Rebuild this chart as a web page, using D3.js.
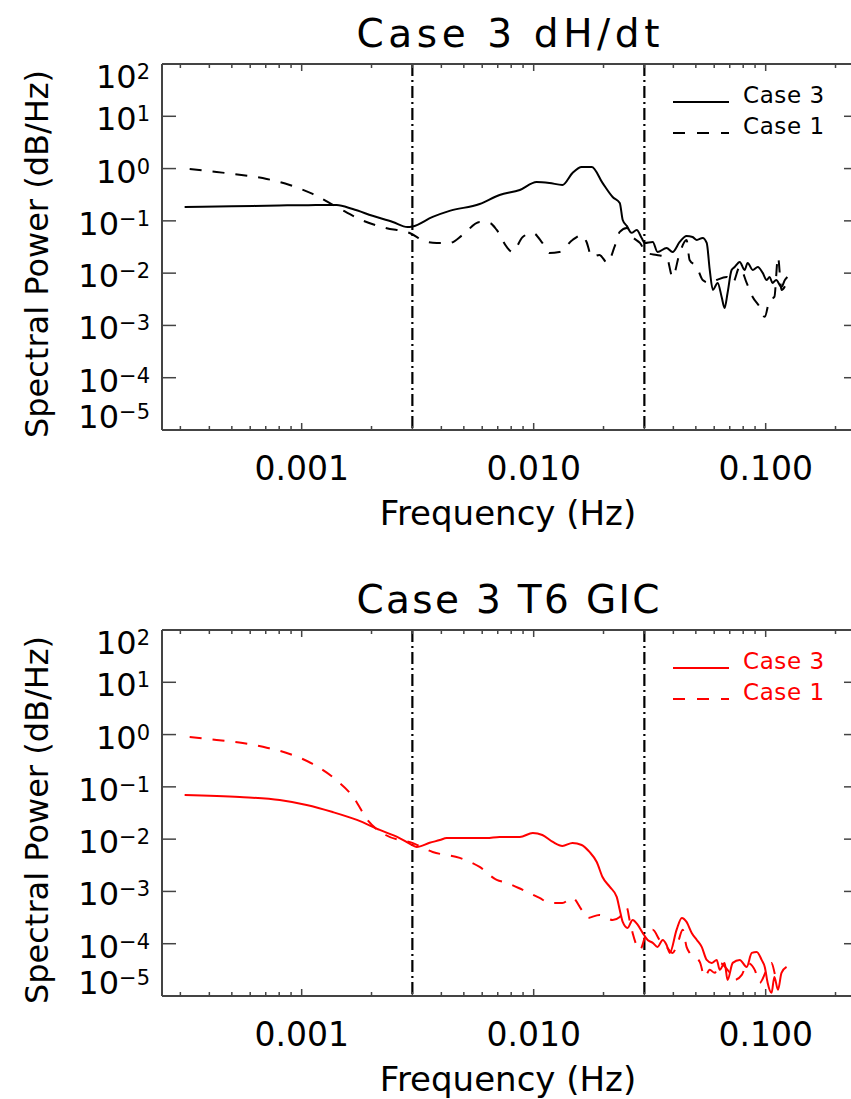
<!DOCTYPE html>
<html><head><meta charset="utf-8">
<script src="https://cdn.jsdelivr.net/npm/d3@7/dist/d3.min.js"></script>
<style>
body{margin:0;background:#fff;overflow:hidden}
svg{display:block}
text{font-family:"DejaVu Sans",sans-serif;fill:#000}
</style>
</head><body>
<svg id="chart" width="851" height="1099"></svg>
<script>
// ---------- data ----------
const titles = ["Case 3 dH/dt", "Case 3 T6 GIC"];
const seriesNames = ["Case 3", "Case 1"];
const xTickValues = [0.001, 0.01, 0.1];
const xTickLabels = ["0.001", "0.010", "0.100"];
const yTickExponents = [2, 1, 0, -1, -2, -3, -4, -5];
const bandFreqs = [0.003, 0.03];

// Panel 1: dH/dt, Case 3 (solid)
const dhdtCase3Freq = [0.000313,0.0005,0.0008,0.00115,0.001415,0.00166,0.00202,0.00247,0.00286,0.0030,0.00367,0.00434,0.00585,0.00713,0.00871,0.0103,0.0117,0.0133,0.0147,0.0161,0.0178,0.0198,0.0219,0.0235,0.0242,0.0252,0.0264,0.0278,0.0292,0.0301,0.0326,0.0342,0.0374,0.0397,0.0426,0.0456,0.0484,0.0505,0.0535,0.0557,0.0574,0.0592,0.0621,0.0646,0.0665,0.0685,0.0713,0.0735,0.0773,0.0811,0.0836,0.0879,0.0925,0.0971,0.101,0.104,0.107,0.111,0.117,0.121,0.124];
const dhdtCase3Power = [0.185,0.19,0.197,0.20,0.20,0.168,0.125,0.095,0.076,0.078,0.119,0.155,0.21,0.313,0.39,0.555,0.531,0.486,0.824,1.07,1.07,0.531,0.286,0.22,0.104,0.080,0.059,0.067,0.047,0.0378,0.0395,0.0254,0.0303,0.0254,0.0395,0.0514,0.0492,0.0431,0.0471,0.0378,0.0115,0.00477,0.0065,0.0035,0.00216,0.00418,0.0115,0.0131,0.0164,0.0115,0.0157,0.0115,0.0131,0.0101,0.00741,0.00846,0.0065,0.00741,0.00545,0.00741,0.00846];

// Panel 1: dH/dt, Case 1 (dashed)
const dhdtCase1Freq = [0.000329,0.00043,0.00055,0.000707,0.000888,0.001115,0.001415,0.00181,0.0023,0.00292,0.00346,0.00382,0.00434,0.00494,0.00585,0.00646,0.00693,0.00765,0.0081,0.00897,0.00991,0.0109,0.0117,0.0129,0.0147,0.0161,0.0169,0.0178,0.0192,0.0208,0.0223,0.0235,0.0252,0.0267,0.0287,0.0307,0.0339,0.0374,0.0397,0.0426,0.0456,0.047,0.0505,0.0535,0.0574,0.0615,0.0679,0.0721,0.0773,0.0828,0.0879,0.0942,0.0991,0.104,0.109,0.113,0.117,0.123];
const dhdtCase1Power = [0.98,0.86,0.755,0.633,0.485,0.327,0.185,0.104,0.073,0.0587,0.0395,0.0378,0.0378,0.0537,0.0953,0.0912,0.067,0.0317,0.0254,0.0492,0.0587,0.0378,0.0243,0.0254,0.0431,0.0537,0.0395,0.0204,0.0223,0.0157,0.0317,0.0614,0.0731,0.0492,0.0378,0.0243,0.0223,0.0204,0.00846,0.0243,0.0431,0.0179,0.0131,0.00741,0.0065,0.00741,0.00846,0.0065,0.0131,0.0065,0.0035,0.00226,0.00146,0.00307,0.0035,0.0204,0.00477,0.0065];

// Panel 2: T6 GIC, Case 3 (solid)
const gicCase3Freq = [0.000313,0.000541,0.000804,0.00105,0.00136,0.00173,0.00217,0.00264,0.00298,0.00313,0.00356,0.00394,0.00422,0.00514,0.00627,0.00713,0.00871,0.00991,0.0109,0.0121,0.0133,0.0147,0.0161,0.0174,0.0187,0.0198,0.0213,0.0228,0.0235,0.0242,0.0254,0.0267,0.0281,0.0295,0.031,0.0326,0.0342,0.036,0.0374,0.0386,0.0413,0.0435,0.0456,0.048,0.0505,0.053,0.0557,0.0585,0.0615,0.0634,0.0665,0.0685,0.0721,0.0773,0.0828,0.0871,0.0915,0.0961,0.0991,0.102,0.106,0.109,0.113,0.117,0.123];
const gicCase3Power = [0.070,0.064,0.056,0.045,0.033,0.0233,0.015,0.0105,0.0078,0.0071,0.0085,0.0096,0.0105,0.0105,0.0105,0.011,0.011,0.0131,0.012,0.00883,0.00741,0.00846,0.00774,0.00569,0.00366,0.00189,0.00122,0.000785,0.000443,0.000261,0.0002,0.000285,0.000229,0.000161,0.000118,0.000104,0.0000869,0.000118,0.0000948,0.0000667,0.000184,0.000311,0.000261,0.000161,0.000118,0.0000869,0.000049,0.000043,0.000049,0.0000316,0.000043,0.0000203,0.000043,0.000049,0.000036,0.0000667,0.0000697,0.000049,0.000036,0.0000178,0.0000115,0.0000232,0.0000131,0.0000277,0.000036];

// Panel 2: T6 GIC, Case 1 (dashed)
const gicCase1Freq = [0.000329,0.00043,0.000557,0.000714,0.000888,0.001115,0.00139,0.00168,0.00192,0.0023,0.003,0.00367,0.0048,0.00585,0.00693,0.00765,0.00897,0.0106,0.0117,0.0133,0.0147,0.0161,0.0171,0.0192,0.0219,0.0235,0.0252,0.0259,0.0267,0.0287,0.0307,0.0326,0.0349,0.0374,0.0397,0.0418,0.0439,0.0456,0.047,0.0494,0.052,0.0546,0.0574,0.0603,0.0634,0.0685,0.0735,0.0789,0.0836,0.0897,0.0942,0.101,0.106,0.111,0.118];
const gicCase1Power = [0.90,0.79,0.69,0.555,0.426,0.274,0.142,0.0614,0.0233,0.012,0.00846,0.00569,0.00438,0.00294,0.00166,0.00146,0.00107,0.000752,0.000603,0.000603,0.000752,0.000443,0.000311,0.000356,0.000285,0.000325,0.000484,0.000285,0.000161,0.000076,0.000161,0.000184,0.000118,0.0000869,0.0000667,0.000104,0.000184,0.0000869,0.0000667,0.000056,0.0000449,0.0000232,0.0000316,0.0000277,0.000043,0.0000316,0.0000203,0.0000253,0.000043,0.0000316,0.0000178,0.0000316,0.000043,0.0000232,0.0000277];

// ---------- drawing ----------
const svg = d3.select("#chart");
const left = 162, right = 858;
const x = d3.scaleLog().domain([2.5e-4, 0.25]).range([left, right]);
const axisColor = "#444";

const panels = [
  {top: 64, bottom: 430, title: titles[0], color: "#000",
   series: [{f: dhdtCase3Freq, p: dhdtCase3Power, dash: null},
            {f: dhdtCase1Freq, p: dhdtCase1Power, dash: "12,11"}]},
  {top: 630, bottom: 996, title: titles[1], color: "#ff0000",
   series: [{f: gicCase3Freq, p: gicCase3Power, dash: null},
            {f: gicCase1Freq, p: gicCase1Power, dash: "12,11"}]}
];

panels.forEach((pn, i) => {
  const y = d3.scaleLog().domain([1e-5, 1e2]).range([pn.bottom, pn.top]);
  const g = svg.append("g");
  const clipId = "clip" + i;
  svg.append("clipPath").attr("id", clipId).append("rect")
    .attr("x", left).attr("y", pn.top).attr("width", right - left).attr("height", pn.bottom - pn.top);

  // title
  g.append("text").attr("x", 508).attr("y", pn.top - 17)
    .attr("text-anchor", "middle").attr("font-size", 39)
    .attr("textLength", 303).attr("lengthAdjust", "spacing")
    .text(pn.title);

  // vertical dash-dot lines
  g.selectAll(".band").data(bandFreqs).join("line")
    .attr("x1", d => x(d)).attr("x2", d => x(d))
    .attr("y1", pn.top).attr("y2", pn.bottom)
    .attr("stroke", "#000").attr("stroke-width", 2.2)
    .attr("stroke-dasharray", "12,4,2,4");

  // data lines
  const line = d3.line().x(d => x(d[0])).y(d => y(d[1])).curve(d3.curveMonotoneX);
  const dg = g.append("g").attr("clip-path", `url(#${clipId})`);
  pn.series.forEach(s => {
    const pts = s.f.map((f, k) => [f, s.p[k]]);
    dg.append("path").attr("d", line(pts))
      .attr("fill", "none").attr("stroke", pn.color).attr("stroke-width", 2)
      .attr("stroke-linejoin", "round")
      .attr("stroke-dasharray", s.dash);
  });

  // axis lines (left, top, bottom; right edge lies outside the picture)
  g.append("line").attr("x1", left).attr("x2", left).attr("y1", pn.top).attr("y2", pn.bottom)
    .attr("stroke", axisColor).attr("stroke-width", 2);
  [pn.top, pn.bottom].forEach(yy => g.append("line").attr("x1", left).attr("x2", right)
    .attr("y1", yy).attr("y2", yy).attr("stroke", axisColor).attr("stroke-width", 2));

  // x ticks (top and bottom)
  const xt = x.ticks();
  const isMajor = v => Math.abs(Math.log10(v) - Math.round(Math.log10(v))) < 1e-6;
  [pn.bottom, pn.top].forEach((yy, k) => {
    const dir = k === 0 ? -1 : 1;
    g.selectAll(null).data(xt).join("line")
      .attr("x1", d => x(d)).attr("x2", d => x(d))
      .attr("y1", yy).attr("y2", d => yy + dir * (isMajor(d) ? 7 : 4))
      .attr("stroke", axisColor).attr("stroke-width", 1.5);
  });

  // y ticks (left and right)
  const yt = yTickExponents.map(e => Math.pow(10, e));
  g.selectAll(null).data(yt).join("line")
    .attr("x1", left).attr("x2", left + 14).attr("y1", d => y(d)).attr("y2", d => y(d))
    .attr("stroke", axisColor).attr("stroke-width", 1.5);
  g.selectAll(null).data(yt).join("line")
    .attr("x1", right - 14).attr("x2", right).attr("y1", d => y(d)).attr("y2", d => y(d))
    .attr("stroke", axisColor).attr("stroke-width", 1.5);

  // y tick labels
  yTickExponents.forEach((e, k) => {
    let off = 14;
    if (k === 0) off = 24;
    if (k === yTickExponents.length - 1) off = -2;
    const t = g.append("text").attr("x", 150).attr("y", y(Math.pow(10, e)) + off)
      .attr("text-anchor", "end").attr("font-size", 32);
    t.append("tspan").text("10");
    t.append("tspan").attr("dy", -9).attr("font-size", 21)
      .text(e < 0 ? "\u2212" + Math.abs(e) : String(e));
  });

  // x tick labels
  g.selectAll(null).data(xTickValues).join("text")
    .attr("x", d => x(d)).attr("y", pn.bottom + 50)
    .attr("text-anchor", "middle").attr("font-size", 33)
    .text((d, k) => xTickLabels[k]);

  // axis titles
  g.append("text").attr("x", 508).attr("y", pn.bottom + 95)
    .attr("text-anchor", "middle").attr("font-size", 34)
    .text("Frequency (Hz)");
  g.append("text")
    .attr("transform", `translate(48,${(pn.top + pn.bottom) / 2 + 7}) rotate(-90)`)
    .attr("text-anchor", "middle").attr("font-size", 32)
    .text("Spectral Power (dB/Hz)");

  // legend
  const lg = g.append("g");
  seriesNames.forEach((nm, k) => {
    const ly = pn.top + 38 + k * 31;
    lg.append("line").attr("x1", 673).attr("x2", 729).attr("y1", ly).attr("y2", ly)
      .attr("stroke", pn.color).attr("stroke-width", 2)
      .attr("stroke-dasharray", k === 1 ? "12,12" : null);
    lg.append("text").attr("x", 743).attr("y", ly + 1)
      .attr("font-size", 23).attr("letter-spacing", 0.6)
      .style("fill", pn.color).text(nm);
  });
});
</script>
</body></html>
